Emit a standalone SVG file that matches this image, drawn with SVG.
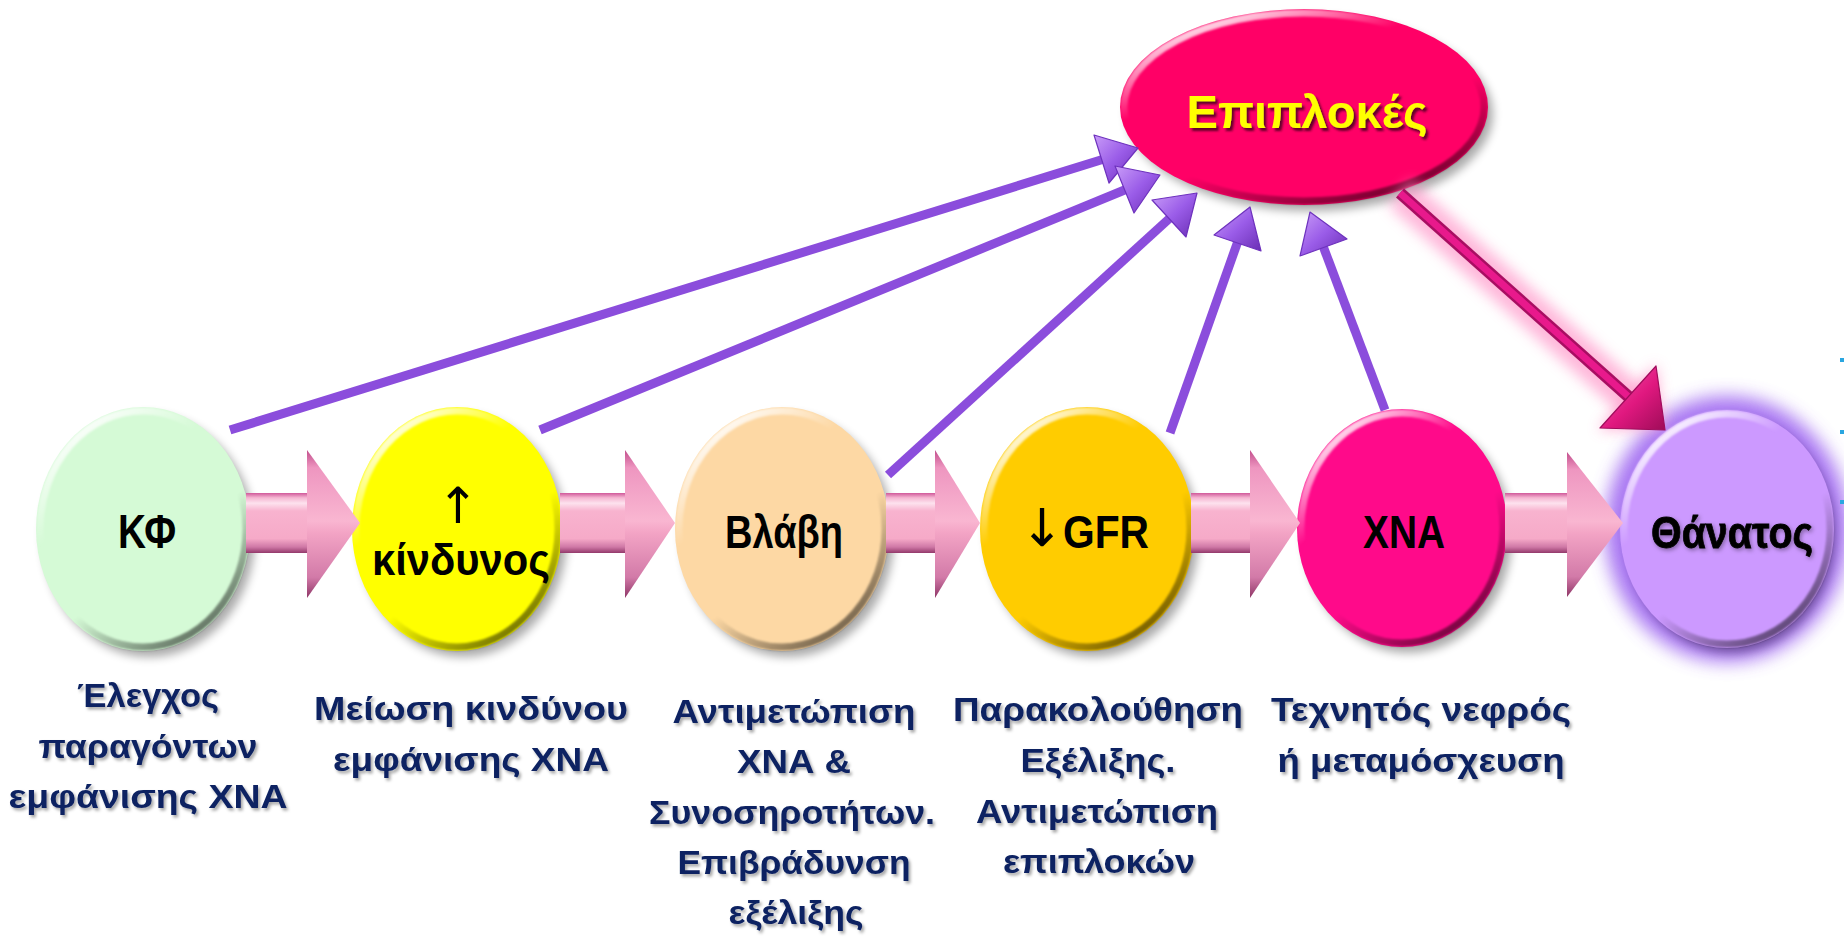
<svg xmlns="http://www.w3.org/2000/svg" width="1844" height="937" viewBox="0 0 1844 937">
<defs>
<style>
.node-t{font-family:"Liberation Sans",Arial,sans-serif;font-weight:bold;fill:#000;text-anchor:middle}
.arr{font-family:"DejaVu Sans",sans-serif;font-weight:normal;fill:#000;text-anchor:middle}
.lab{font-family:"Liberation Sans",Arial,sans-serif;font-weight:bold;font-size:34px;fill:#0E2462;text-anchor:middle;filter:url(#tshadow)}
.rim{fill:none;stroke:url(#rim);stroke-width:7;filter:url(#soft)}
.shadow{fill:#000;opacity:.33;filter:url(#blur6)}
.pline{fill:none;stroke:#8B4DDC;stroke-width:9;stroke-linecap:butt}
.phead{fill:url(#pheadG);stroke:#6E32BE;stroke-width:1.2;stroke-linejoin:round}
.shaft{fill:url(#shaftG)}
.bhead{fill:url(#bheadG)}
</style>
<filter id="blur6" x="-20%" y="-20%" width="140%" height="140%"><feGaussianBlur stdDeviation="5"/></filter>
<filter id="soft" x="-10%" y="-10%" width="120%" height="120%"><feGaussianBlur stdDeviation="1.3"/></filter>
<filter id="glowP" x="-40%" y="-40%" width="180%" height="180%"><feGaussianBlur stdDeviation="9"/></filter>
<filter id="glowK" x="-40%" y="-40%" width="180%" height="180%"><feGaussianBlur stdDeviation="7"/></filter>
<filter id="tshadow" x="-10%" y="-30%" width="120%" height="160%"><feDropShadow dx="2" dy="2.5" stdDeviation="1.5" flood-color="#000" flood-opacity="0.35"/></filter>
<filter id="yshadow" x="-10%" y="-30%" width="120%" height="160%"><feDropShadow dx="2.5" dy="3" stdDeviation="1.2" flood-color="#3a0018" flood-opacity="0.8"/></filter>
<filter id="dshadow" x="-10%" y="-30%" width="120%" height="160%"><feDropShadow dx="1.5" dy="2" stdDeviation="2" flood-color="#000" flood-opacity="0.35"/></filter>
<linearGradient id="rim" x1="0.2" y1="0.05" x2="0.8" y2="0.95">
<stop offset="0" stop-color="#fff" stop-opacity=".9"/>
<stop offset=".3" stop-color="#fff" stop-opacity="0"/>
<stop offset=".62" stop-color="#000" stop-opacity="0"/>
<stop offset="1" stop-color="#000" stop-opacity=".55"/>
</linearGradient>
<linearGradient id="shaftG" x1="0" y1="0" x2="0" y2="1">
<stop offset="0" stop-color="#D0589A"/>
<stop offset=".08" stop-color="#F5B6D2"/>
<stop offset=".17" stop-color="#FDE2EE"/>
<stop offset=".3" stop-color="#F8B3CF"/>
<stop offset=".76" stop-color="#F6AAC8"/>
<stop offset=".9" stop-color="#CF78A6"/>
<stop offset="1" stop-color="#93396B"/>
</linearGradient>
<linearGradient id="bheadG" x1="0" y1="0" x2="0" y2="1">
<stop offset="0" stop-color="#C24E8C"/>
<stop offset=".12" stop-color="#EE96C0"/>
<stop offset=".48" stop-color="#F9B6D1"/>
<stop offset=".56" stop-color="#F3A4C5"/>
<stop offset=".86" stop-color="#D27AA8"/>
<stop offset="1" stop-color="#8E3566"/>
</linearGradient>
<linearGradient id="pheadG" x1="0" y1="0" x2="1" y2="1">
<stop offset="0" stop-color="#C99CF8"/>
<stop offset=".5" stop-color="#9A5CE8"/>
<stop offset="1" stop-color="#6A2EB4"/>
</linearGradient>
<linearGradient id="kheadG" x1="0" y1="0" x2="1" y2="1">
<stop offset="0" stop-color="#F55AAE"/>
<stop offset=".55" stop-color="#E0187F"/>
<stop offset="1" stop-color="#9E0C58"/>
</linearGradient>
</defs>
<rect width="1844" height="937" fill="#fff"/>

<g id="glow-thanatos">
<ellipse cx="1727" cy="529" rx="122" ry="133" fill="#9A5EF0" opacity=".85" filter="url(#glowP)"/>
</g>

<g id="node-kf">
<ellipse class="shadow" cx="149" cy="536" rx="106" ry="121"/>
<ellipse cx="143" cy="529" rx="107" ry="122" fill="#D5FAD6"/>
<ellipse class="rim" cx="143" cy="529" rx="103" ry="118"/>
<text class="node-t" x="147" y="548" font-size="48" textLength="58" lengthAdjust="spacingAndGlyphs">ΚΦ</text>
</g>

<g id="node-kindynos">
<ellipse class="shadow" cx="463" cy="536" rx="104" ry="121"/>
<ellipse cx="457" cy="529" rx="105" ry="122" fill="#FFFF00"/>
<ellipse class="rim" cx="457" cy="529" rx="101" ry="118"/>
<text class="arr" x="458" y="523" font-size="50">↑</text>
<text class="node-t" x="461" y="575" font-size="44" textLength="178" lengthAdjust="spacingAndGlyphs">κίνδυνος</text>
</g>

<g id="node-vlavi">
<ellipse class="shadow" cx="788" cy="536" rx="106" ry="121"/>
<ellipse cx="782" cy="529" rx="107" ry="122" fill="#FDD8A4"/>
<ellipse class="rim" cx="782" cy="529" rx="103" ry="118"/>
<text class="node-t" x="784" y="548" font-size="46" textLength="118" lengthAdjust="spacingAndGlyphs">Βλάβη</text>
</g>

<g id="node-gfr">
<ellipse class="shadow" cx="1093" cy="536" rx="106" ry="121"/>
<ellipse cx="1087" cy="529" rx="107" ry="122" fill="#FFCC00"/>
<ellipse class="rim" cx="1087" cy="529" rx="103" ry="118"/>
<text class="arr" x="1042" y="546" font-size="52">↓</text>
<text class="node-t" x="1106" y="548" font-size="46" textLength="86" lengthAdjust="spacingAndGlyphs">GFR</text>
</g>

<g id="node-xna">
<ellipse class="shadow" cx="1408" cy="535" rx="104" ry="118"/>
<ellipse cx="1402" cy="528" rx="105" ry="119" fill="#FF0A8A"/>
<ellipse class="rim" cx="1402" cy="528" rx="101" ry="115"/>
<text class="node-t" x="1404" y="548" font-size="46" textLength="82" lengthAdjust="spacingAndGlyphs">ΧΝΑ</text>
</g>

<g id="node-thanatos">
<ellipse class="shadow" cx="1731" cy="535" rx="104" ry="118"/>
<ellipse cx="1727" cy="529" rx="107" ry="119" fill="#CC99FF"/>
<ellipse class="rim" cx="1727" cy="529" rx="103" ry="115"/>
<text class="node-t" x="1732" y="548" font-size="45" textLength="162" lengthAdjust="spacingAndGlyphs" filter="url(#dshadow)" stroke="#000" stroke-width="0.8">Θάνατος</text>
</g>

<g id="node-epiplokes">
<ellipse class="shadow" cx="1310" cy="114" rx="183" ry="97"/>
<ellipse cx="1304" cy="107" rx="184" ry="98" fill="#FF0066"/>
<ellipse class="rim" cx="1304" cy="107" rx="180" ry="94"/>
<text x="1307" y="128" font-family="Liberation Sans, Arial, sans-serif" font-weight="bold" font-size="47" fill="#FFFF00" text-anchor="middle" textLength="241" lengthAdjust="spacingAndGlyphs" filter="url(#yshadow)">Επιπλοκές</text>
</g>

<g id="connectors">
<rect class="shaft" x="246" y="493" width="62" height="60"/>
<polygon class="bhead" points="307,450 360,523 307,598"/>
<rect class="shaft" x="560" y="493" width="66" height="60"/>
<polygon class="bhead" points="625,450 675,523 625,598"/>
<rect class="shaft" x="886" y="493" width="50" height="60"/>
<polygon class="bhead" points="935,450 980,523 935,598"/>
<rect class="shaft" x="1191" y="493" width="60" height="60"/>
<polygon class="bhead" points="1250,450 1300,523 1250,598"/>
<rect class="shaft" x="1505" y="493" width="63" height="60"/>
<polygon class="bhead" points="1567,452 1623,523 1567,597"/>

<line class="pline" x1="230" y1="430" x2="1104" y2="159"/>
<polygon class="phead" points="1138,148 1109,183 1094,135"/>
<line class="pline" x1="540" y1="430" x2="1127" y2="189"/>
<polygon class="phead" points="1160,175 1134,213 1115,166"/>
<line class="pline" x1="888" y1="475" x2="1171" y2="217"/>
<polygon class="phead" points="1197,193 1186,237 1152,200"/>
<line class="pline" x1="1170" y1="433" x2="1238" y2="241"/>
<polygon class="phead" points="1250,207 1261,251 1214,235"/>
<line class="pline" x1="1385" y1="410" x2="1323" y2="246" stroke="#7E46CF"/>
<polygon class="phead" points="1310,212 1347,239 1300,256"/>

<line x1="1400" y1="193" x2="1640" y2="408" stroke="#FF9ACB" stroke-width="34" opacity=".7" filter="url(#glowK)"/>
<polygon points="1663,428 1598,430 1656,364" fill="#FF9ACB" opacity=".8" filter="url(#glowK)"/>
<line x1="1400" y1="193" x2="1630" y2="398" stroke="#A80E62" stroke-width="12"/>
<line x1="1400" y1="193" x2="1630" y2="398" stroke="#E8198C" stroke-width="7"/>
<polygon points="1665,430 1600,428 1656,366" fill="url(#kheadG)" stroke="#A00C5C" stroke-width="1.2" stroke-linejoin="round"/>
</g>

<g id="labels">
<text class="lab" x="148" y="707" textLength="142" lengthAdjust="spacingAndGlyphs">Έλεγχος</text>
<text class="lab" x="148" y="758" textLength="219" lengthAdjust="spacingAndGlyphs">παραγόντων</text>
<text class="lab" x="148" y="808" textLength="279" lengthAdjust="spacingAndGlyphs">εμφάνισης ΧΝΑ</text>

<text class="lab" x="471" y="720" textLength="314" lengthAdjust="spacingAndGlyphs">Μείωση κινδύνου</text>
<text class="lab" x="471" y="771" textLength="276" lengthAdjust="spacingAndGlyphs">εμφάνισης ΧΝΑ</text>

<text class="lab" x="794" y="723" textLength="243" lengthAdjust="spacingAndGlyphs">Αντιμετώπιση</text>
<text class="lab" x="794" y="773" textLength="114" lengthAdjust="spacingAndGlyphs">ΧΝΑ &amp;</text>
<text class="lab" x="792" y="824" textLength="286" lengthAdjust="spacingAndGlyphs">Συνοσηροτήτων.</text>
<text class="lab" x="794" y="874" textLength="233" lengthAdjust="spacingAndGlyphs">Επιβράδυνση</text>
<text class="lab" x="796" y="924" textLength="135" lengthAdjust="spacingAndGlyphs">εξέλιξης</text>

<text class="lab" x="1098" y="721" textLength="290" lengthAdjust="spacingAndGlyphs">Παρακολούθηση</text>
<text class="lab" x="1098" y="772" textLength="155" lengthAdjust="spacingAndGlyphs">Εξέλιξης.</text>
<text class="lab" x="1097" y="823" textLength="242" lengthAdjust="spacingAndGlyphs">Αντιμετώπιση</text>
<text class="lab" x="1099" y="873" textLength="192" lengthAdjust="spacingAndGlyphs">επιπλοκών</text>

<text class="lab" x="1421" y="721" textLength="300" lengthAdjust="spacingAndGlyphs">Τεχνητός νεφρός</text>
<text class="lab" x="1421" y="772" textLength="287" lengthAdjust="spacingAndGlyphs">ή μεταμόσχευση</text>
</g>

<g id="edge-marks" fill="#2AA6E0">
<rect x="1840" y="358" width="4" height="4"/>
<rect x="1840" y="430" width="4" height="4"/>
<rect x="1840" y="500" width="4" height="4"/>
</g>
</svg>
